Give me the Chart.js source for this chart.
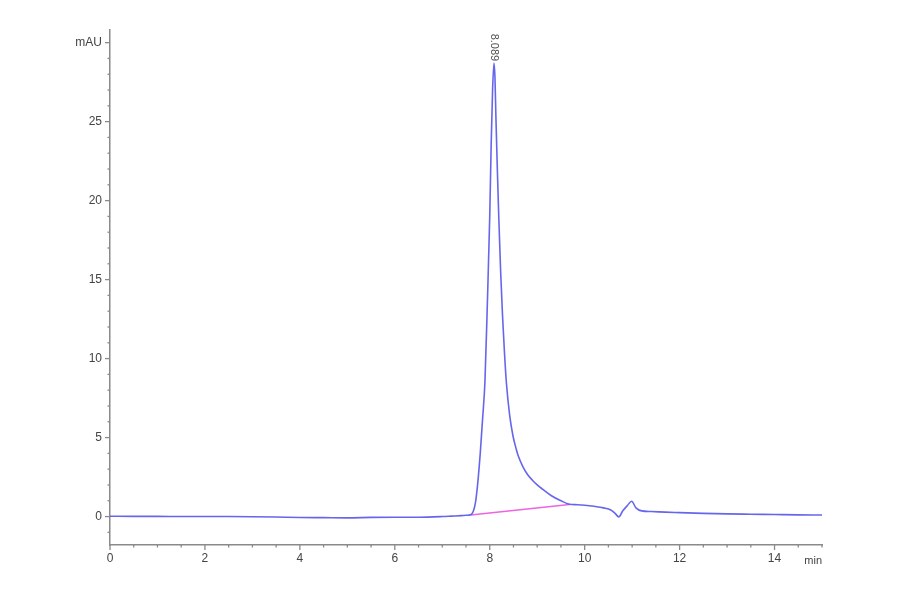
<!DOCTYPE html>
<html>
<head>
<meta charset="utf-8">
<script src="https://cdn.jsdelivr.net/npm/chart.js@4/dist/chart.umd.min.js"></script>
<style>
  html, body { margin: 0; padding: 0; background: #ffffff; }
  #wrap { width: 900px; height: 594px; }
</style>
</head>
<body>
<div id="wrap"><canvas id="c" width="900" height="594"></canvas></div>
<script>
// Retention time (min)
const times = [0, 0.5, 1, 1.5, 2, 2.5, 3, 3.5, 4, 4.5, 5, 5.5, 6, 6.5, 7, 7.2, 7.4, 7.5, 7.6, 7.65,
  7.7, 7.75, 7.8, 7.85, 7.9, 7.95, 8.0, 8.03, 8.06, 8.089, 8.11, 8.13, 8.16, 8.19, 8.23, 8.27, 8.31,
  8.35, 8.42, 8.49, 8.56, 8.6, 8.7, 8.8, 8.9, 9.0, 9.12, 9.3, 9.5, 9.68, 9.85, 10.0, 10.2, 10.4, 10.55,
  10.64, 10.72, 10.8, 10.9, 10.99, 11.08, 11.2, 11.4, 11.7, 12.0, 12.5, 13.0, 13.5, 14.0, 14.5, 15.0];
// Signal (mAU)
const signal = [0.02, 0.01, 0.01, 0.0, 0.0, 0.0, -0.01, -0.03, -0.06, -0.07, -0.08, -0.05, -0.04, -0.04, 0.0, 0.03, 0.06, 0.08, 0.12, 0.3,
  0.9, 2.2, 4.0, 6.2, 8.6, 13.5, 19.0, 23.5, 27.0, 28.7, 27.8, 25.3, 22.0, 19.0, 15.5, 12.7, 10.4,
  8.5, 6.4, 5.1, 4.25, 3.85, 3.15, 2.65, 2.3, 2.0, 1.72, 1.32, 1.0, 0.78, 0.75, 0.72, 0.65, 0.55, 0.42,
  0.2, -0.02, 0.35, 0.7, 0.97, 0.55, 0.36, 0.32, 0.28, 0.25, 0.2, 0.17, 0.15, 0.13, 0.11, 0.1];
// Integration baseline
const baselineTimes = [7.6, 9.68];
const baselineValues = [0.1, 0.76];
// Peak annotation
const peakTime = 8.089;
const peakLabel = "8.089";
// Axis labels
const xTickLabels = ["0", "2", "4", "6", "8", "10", "12", "14"];
const yTickLabels = ["0", "5", "10", "15", "20", "25"];
const yUnit = "mAU";
const xUnit = "min";

const AXIS = '#8a8a8a';
const TXT = '#444444';
const FONT = 'Liberation Sans, Arial, sans-serif';

const tracePts = times.map((t, i) => ({ x: t, y: signal[i] }));
const basePts = baselineTimes.map((t, i) => ({ x: t, y: baselineValues[i] }));

const tickPlugin = {
  id: 'tickPlugin',
  afterDraw(chart) {
    const ctx = chart.ctx;
    const xs = chart.scales.x, ys = chart.scales.y;
    const area = chart.chartArea;
    ctx.save();
    ctx.strokeStyle = AXIS;
    ctx.lineWidth = 1.3;
    ys.ticks.forEach(t => {
      const py = ys.getPixelForValue(t.value);
      const major = Math.abs(t.value % 5) < 1e-6;
      ctx.beginPath();
      ctx.moveTo(area.left, py);
      ctx.lineTo(area.left - (major ? 5 : 2.5), py);
      ctx.stroke();
    });
    xs.ticks.forEach(t => {
      const px = xs.getPixelForValue(t.value);
      const major = Math.abs(t.value % 2) < 1e-6;
      ctx.beginPath();
      ctx.moveTo(px, area.bottom);
      ctx.lineTo(px, area.bottom + (major ? 5 : 2.5));
      ctx.stroke();
    });
    ctx.fillStyle = TXT;
    ctx.font = '11px ' + FONT;
    ctx.textAlign = 'right';
    ctx.textBaseline = 'middle';
    ctx.fillText(xUnit, area.right, area.bottom + 16);
    const meta = chart.getDatasetMeta(0);
    const idx = times.indexOf(peakTime);
    const pt = meta.data[idx];
    ctx.translate(pt.x, pt.y - 2);
    ctx.rotate(Math.PI / 2);
    ctx.font = '11px ' + FONT;
    ctx.textAlign = 'right';
    ctx.textBaseline = 'middle';
    ctx.fillStyle = '#505050';
    ctx.fillText(peakLabel, 0, 0);
    ctx.restore();
  }
};

new Chart(document.getElementById('c'), {
  type: 'line',
  data: {
    datasets: [
      {
        data: tracePts,
        borderColor: 'rgba(85,85,235,0.9)',
        borderWidth: 1.6,
        pointRadius: 0,
        cubicInterpolationMode: 'monotone',
        fill: false
      },
      {
        data: basePts,
        borderColor: 'rgb(238,100,225)',
        borderWidth: 1.4,
        pointRadius: 0,
        fill: false
      }
    ]
  },
  options: {
    responsive: false,
    animation: false,
    layout: { padding: { left: 0, top: 30, right: 78, bottom: 0 } },
    plugins: { legend: { display: false }, tooltip: { enabled: false } },
    scales: {
      x: {
        type: 'linear',
        min: 0,
        max: 15,
        afterFit(s) { s.height = 49; },
        border: { display: true, color: AXIS, width: 1.5 },
        grid: { display: true, drawOnChartArea: false, drawTicks: false },
        ticks: {
          stepSize: 0.5,
          autoSkip: false,
          maxRotation: 0,
          padding: 6,
          color: TXT,
          font: { family: FONT, size: 12 },
          callback(v) {
            const s = String(v);
            return xTickLabels.includes(s) ? s : '';
          }
        }
      },
      y: {
        type: 'linear',
        min: -1.8,
        max: 30.8,
        afterFit(s) { s.width = 110; },
        border: { display: true, color: AXIS, width: 1.5 },
        grid: { display: true, drawOnChartArea: false, drawTicks: false },
        ticks: {
          stepSize: 1,
          includeBounds: false,
          autoSkip: false,
          padding: 8,
          color: TXT,
          font: { family: FONT, size: 12 },
          callback(v) {
            if (v === 30) return yUnit;
            const s = String(v);
            return yTickLabels.includes(s) ? s : '';
          }
        }
      }
    }
  },
  plugins: [tickPlugin]
});
</script>
</body>
</html>
